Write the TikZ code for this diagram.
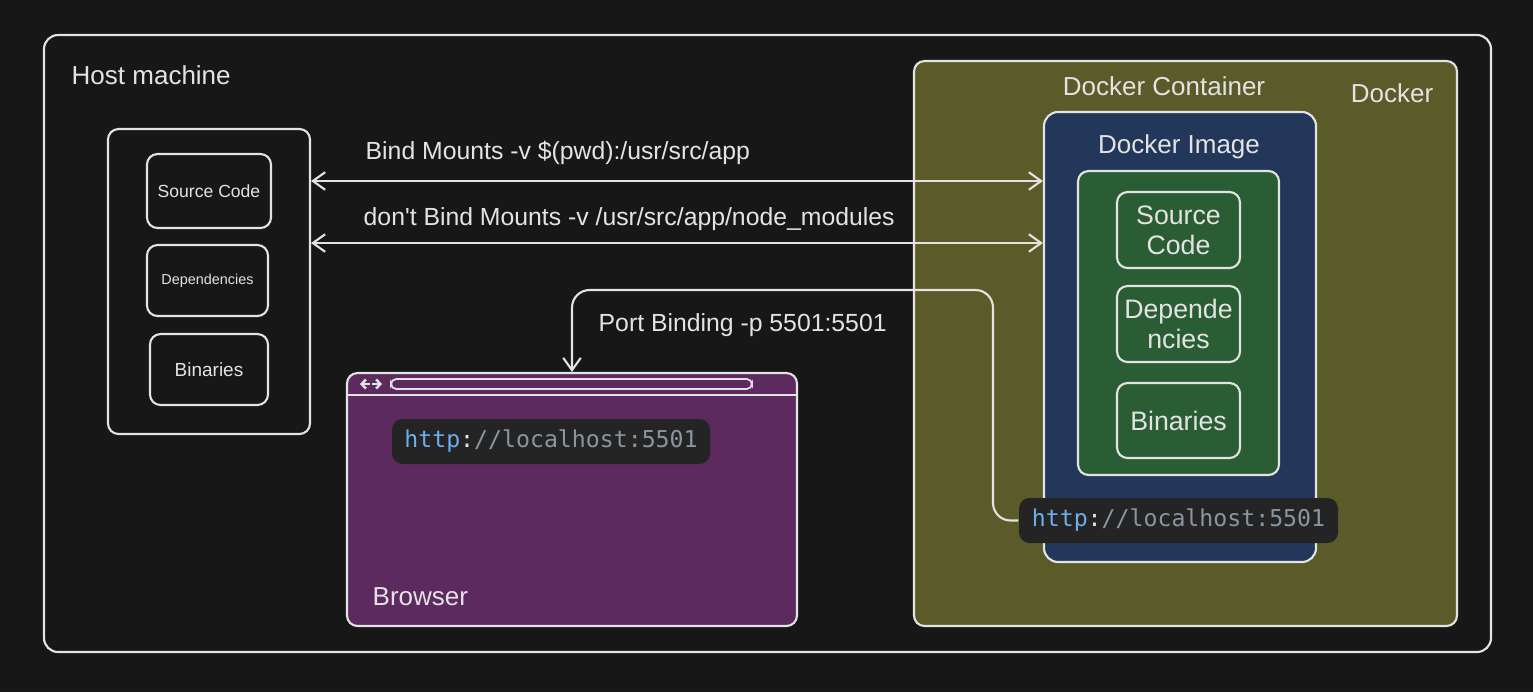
\documentclass[tikz,border=0pt]{standalone}
\usepackage{fontspec}
\setmainfont{Liberation Sans}
\setmonofont{DejaVu Sans Mono}
\usetikzlibrary{arrows.meta}

\definecolor{bg}{HTML}{171717}
\definecolor{ink}{HTML}{E3E3E3}
\definecolor{olive}{HTML}{5B5B29}
\definecolor{navy}{HTML}{22375A}
\definecolor{leaf}{HTML}{2B5D34}
\definecolor{plum}{HTML}{5C2A5F}
\definecolor{pill}{HTML}{242424}
\definecolor{proto}{HTML}{6CAEEE}
\definecolor{rest}{HTML}{8B959F}

\newcommand{\hostlink}{{\color{proto}http}{\color{ink}:}{\color{rest}//localhost:5501}}

\begin{document}
\begin{tikzpicture}[
  box/.style = {
    draw = ink,
    line width = 0.6pt,
    rounded corners = 3pt,
    inner sep = 0pt,
    text = ink,
  },
  txt/.style = {
    text = ink,
    inner sep = 0pt,
    font = \fontsize{7.4}{8.6}\selectfont,
  },
  note/.style = {
    txt,
    anchor = base west,
    font = \fontsize{7.05}{8.4}\selectfont,
  },
  url/.style = {
    fill = pill,
    rounded corners = 3pt,
    minimum width = 3.18cm,
    minimum height = 0.45cm,
    inner sep = 0pt,
    font = \ttfamily\fontsize{6.6}{8}\selectfont,
  },
  link/.style = {
    draw = ink,
    line width = 0.6pt,
  },
  >={Straight Barb[length = 3.5pt, width = 5pt]}
]
  \fill[bg] (0, 0) rectangle (15.33, -6.92);

  \node[box, minimum width = 14.47cm, minimum height = 6.17cm, rounded corners = 4pt] (host) at (7.675, -3.435) {};
  \node[txt, anchor = base west] (hostlbl) at (0.71, -0.84) {Host machine};

  \node[box, minimum width = 2.02cm, minimum height = 3.05cm] (group) at (2.09, -2.815) {};
  \node[box, minimum width = 1.24cm, minimum height = 0.74cm, font = \fontsize{5}{6}\selectfont] (src) at (2.09, -1.91) {Source Code};
  \node[box, minimum width = 1.21cm, minimum height = 0.71cm, font = \fontsize{4.1}{5}\selectfont] (deps) at (2.075, -2.805) {Dependencies};
  \node[box, minimum width = 1.18cm, minimum height = 0.71cm, font = \fontsize{5.4}{6.5}\selectfont] (bins) at (2.09, -3.695) {Binaries};

  \node[box, fill = plum, minimum width = 4.50cm, minimum height = 2.53cm] (browser) at (5.72, -4.995) {};
  \draw[link] (browser.west |- 0, -3.95) -- (browser.east |- 0, -3.95);
  \node[box, line width = 0.5pt, rounded corners = 1.5pt, minimum width = 3.61cm, minimum height = 0.10cm] (addr) at (5.715, -3.84) {};
  \draw[link, line width = 0.7pt, {Straight Barb[length = 1.2pt, width = 2.6pt]}-] (3.60, -3.84) -- (3.70, -3.84);
  \draw[link, line width = 0.7pt, -{Straight Barb[length = 1.2pt, width = 2.6pt]}] (3.72, -3.84) -- (3.82, -3.84);
  \node[url] (url1) at (5.51, -4.415) {\hostlink};
  \node[txt, anchor = base west] (brlbl) at (3.72, -6.05) {Browser};

  \node[box, fill = olive, minimum width = 5.43cm, minimum height = 5.65cm] (docker) at (11.855, -3.435) {};
  \node[txt, anchor = base] (ctrlbl) at (11.64, -0.95) {Docker Container};
  \node[txt, anchor = base] (dockerlbl) at (13.92, -1.02) {Docker};

  \node[box, fill = navy, minimum width = 2.72cm, minimum height = 4.50cm, rounded corners = 4pt] (image) at (11.80, -3.37) {};
  \node[txt, anchor = base] (imglbl) at (11.79, -1.53) {Docker Image};
  \node[box, fill = leaf, minimum width = 2.01cm, minimum height = 3.04cm] (layers) at (11.785, -3.23) {};
  \node[box, align = center, minimum width = 1.23cm, minimum height = 0.76cm, font = \fontsize{7.6}{8.6}\selectfont] (isrc) at (11.785, -2.30) {Source\\Code};
  \node[box, align = center, minimum width = 1.23cm, minimum height = 0.76cm, font = \fontsize{7.6}{8.6}\selectfont] (ideps) at (11.785, -3.24) {Depende\\ncies};
  \node[box, minimum width = 1.23cm, minimum height = 0.75cm, font = \fontsize{7.6}{8.6}\selectfont] (ibins) at (11.785, -4.205) {Binaries};
  \node[url, minimum width = 3.19cm] (url2) at (11.785, -5.205) {\hostlink};

  \draw[link, <->] (group.east |- 0, -1.81) -- (image.west |- 0, -1.81);
  \draw[link, <->] (group.east |- 0, -2.43) -- (image.west |- 0, -2.43);
  \node[note] (bindlbl) at (3.65, -1.59) {Bind Mounts -v \$(pwd):/usr/src/app};
  \node[note] (nobindlbl) at (3.63, -2.25) {don\textquotesingle t Bind Mounts -v /usr/src/app/node\_modules};

  \draw[link, ->, rounded corners = 5pt] (url2.west) -| (9.93, -2.90) -| (browser.north);
  \node[note] (portlbl) at (5.98, -3.31) {Port Binding -p 5501:5501};
\end{tikzpicture}
\end{document}
